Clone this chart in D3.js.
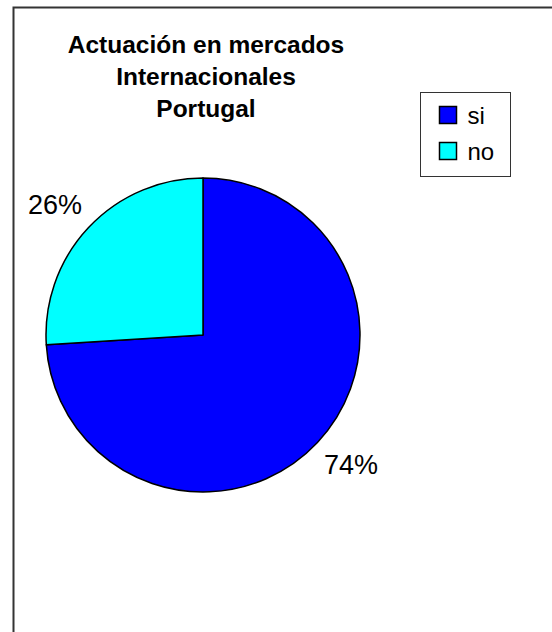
<!DOCTYPE html>
<html>
<head>
<meta charset="utf-8">
<script src="https://cdn.jsdelivr.net/npm/d3@7"></script>
<style>
  body { margin: 0; background: #fff; }
  svg { display: block; font-family: "Liberation Sans", Arial, sans-serif; }
</style>
</head>
<body>
<div id="chart"></div>
<script>
// data
var categories = ["si", "no"];
var values = [74, 26];
var colors = ["#0000ff", "#00ffff"];
var titleLines = ["Actuación en mercados", "Internacionales", "Portugal"];

var width = 552, height = 632;
var cx = 203, cy = 335, radius = 157;
// labels sit on a slightly wide ellipse outside the pie
var labelRx = 203, labelRy = 190;

const svg = d3.select("#chart")
  .append("svg")
    .attr("width", width)
    .attr("height", height);

// chart frame (runs off the right and bottom of the picture)
svg.append("rect")
  .attr("x", 13.5)
  .attr("y", 7.5)
  .attr("width", 600)
  .attr("height", 700)
  .attr("fill", "#fff")
  .attr("stroke", "#333")
  .attr("stroke-width", 2);

// title
svg.append("text")
  .attr("x", 206)
  .attr("y", 53)
  .attr("text-anchor", "middle")
  .style("font-size", "24.5px")
  .style("font-weight", "bold")
  .selectAll("tspan")
  .data(titleLines)
  .enter()
  .append("tspan")
    .attr("x", 206)
    .attr("dy", function(d, i) { return i === 0 ? 0 : 32; })
    .text(function(d) { return d; });

// pie
var color = d3.scaleOrdinal().domain(categories).range(colors);
var pie = d3.pie().sort(null).value(function(d) { return d.value; });
var data = categories.map(function(c, i) { return {name: c, value: values[i]}; });
var arcs = pie(data);
var arc = d3.arc().innerRadius(0).outerRadius(radius);
var total = d3.sum(values);

const g = svg.append("g").attr("transform", `translate(${cx},${cy})`);

g.selectAll("path")
  .data(arcs)
  .enter()
  .append("path")
    .attr("d", arc)
    .attr("fill", function(d) { return color(d.data.name); })
    .attr("stroke", "#000")
    .attr("stroke-width", 1.5)
    .attr("stroke-linejoin", "round");

g.selectAll("text.lbl")
  .data(arcs)
  .enter()
  .append("text")
    .attr("class", "lbl")
    .attr("transform", function(d) {
      var a = (d.startAngle + d.endAngle) / 2;
      return `translate(${Math.sin(a) * labelRx},${-Math.cos(a) * labelRy})`;
    })
    .attr("text-anchor", "middle")
    .attr("dominant-baseline", "central")
    .style("font-size", "27px")
    .text(function(d) { return Math.round(d.data.value / total * 100) + "%"; });

// legend
const legend = svg.append("g").attr("transform", "translate(420.5,92.5)");
legend.append("rect")
  .attr("width", 90)
  .attr("height", 84)
  .attr("fill", "#fff")
  .attr("stroke", "#333")
  .attr("stroke-width", 1);

var ly = d3.scaleBand().domain(categories).range([8, 80]);

const item = legend.selectAll("g.item")
  .data(categories)
  .enter()
  .append("g")
    .attr("class", "item")
    .attr("transform", function(d) { return `translate(0,${ly(d)})`; });

item.append("rect")
  .attr("x", 19)
  .attr("y", 6)
  .attr("width", 17)
  .attr("height", 17)
  .attr("fill", function(d) { return color(d); })
  .attr("stroke", "#000")
  .attr("stroke-width", 1.5);

item.append("text")
  .attr("x", 47)
  .attr("y", 23)
  .style("font-size", "24px")
  .text(function(d) { return d; });
</script>
</body>
</html>
